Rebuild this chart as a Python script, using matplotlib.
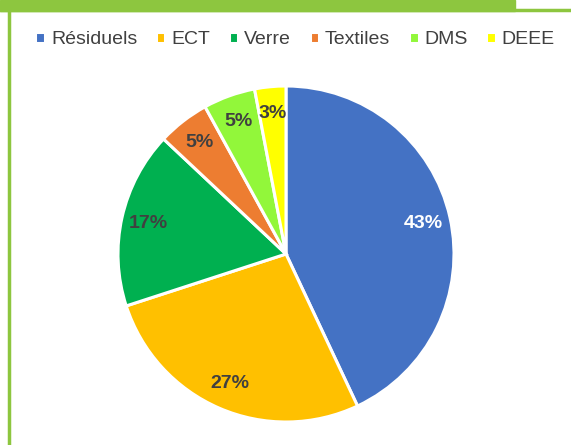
#!/usr/bin/env python3
"""Pie chart: composition of waste by category."""

import matplotlib

matplotlib.use("Agg")
import matplotlib.pyplot as plt
from matplotlib.patches import Rectangle
from matplotlib.lines import Line2D

labels = ["Résiduels", "ECT", "Verre", "Textiles", "DMS", "DEEE"]
shares = [43, 27, 17, 5, 5, 3]
colors = ["#4472C4", "#FFC000", "#00B050", "#ED7D31", "#92F73A", "#FFFF00"]
label_colors = ["white", "#404040", "#404040", "#404040", "#404040", "#404040"]

plt.rcParams["font.family"] = ["Liberation Sans", "DejaVu Sans"]

fig = plt.figure(figsize=(5.71, 4.45), dpi=100)

# green frame / cut-off title band
green = "#8DC63F"
fig.patches.append(Rectangle((0, 1 - 11 / 445), 515 / 571, 11 / 445,
                             transform=fig.transFigure, color=green, zorder=0))
fig.lines.append(Line2D([0, 1], [1 - 10 / 445, 1 - 10 / 445], transform=fig.transFigure,
                        color=green, lw=2.5))
fig.lines.append(Line2D([9 / 571, 9 / 571], [0, 1 - 10 / 445], transform=fig.transFigure,
                        color=green, lw=2.5))

ax = fig.add_axes([(286 - 170) / 571, (445 - 254 - 170) / 445, 340 / 571, 340 / 445])
wedges, texts, autotexts = ax.pie(
    shares,
    colors=colors,
    startangle=90,
    counterclock=False,
    autopct="%d%%",
    pctdistance=0.84,
    radius=168 / 170,
    wedgeprops=dict(edgecolor="white", linewidth=2.2),
    textprops=dict(fontsize=14, fontweight="bold"),
)
for t, c in zip(autotexts, label_colors):
    t.set_color(c)
ax.set_xlim(-1, 1)
ax.set_ylim(-1, 1)
ax.set_aspect("equal")

fig.legend(wedges, labels, loc="center", bbox_to_anchor=(0.517, 1 - 40 / 445), ncol=6,
           frameon=False, fontsize=14, handlelength=0.5, handleheight=0.5,
           handletextpad=0.3, columnspacing=0.95, labelcolor="#404040")

fig.savefig("out.png", dpi=100)
